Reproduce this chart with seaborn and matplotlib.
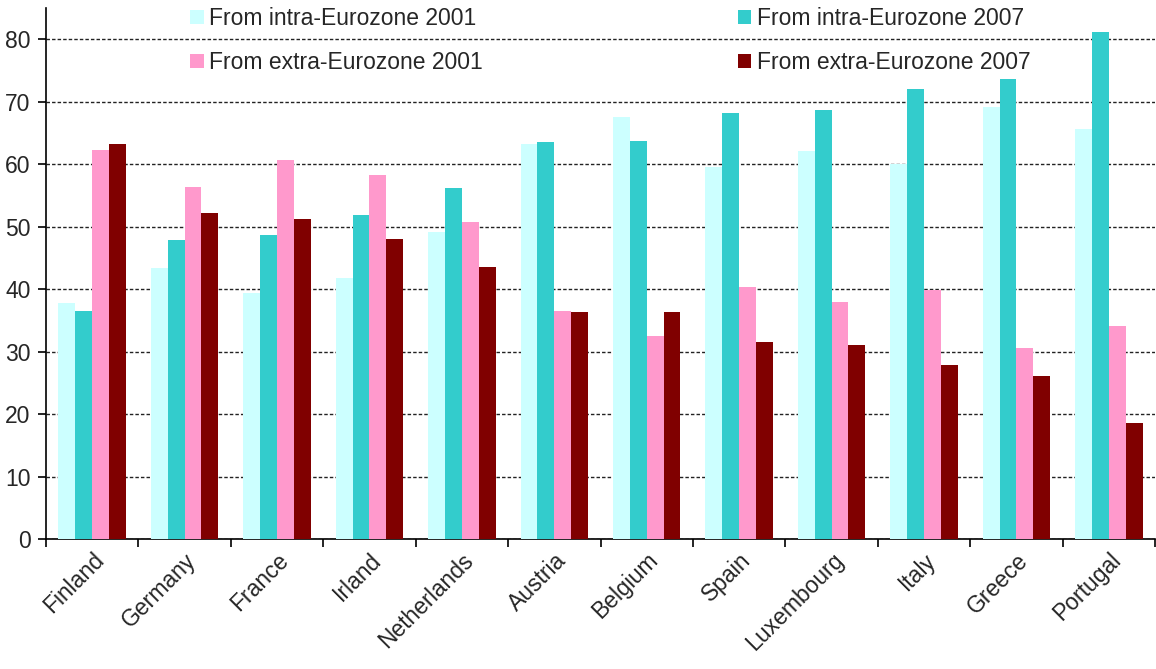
import matplotlib
matplotlib.use("Agg")
import matplotlib.pyplot as plt
import seaborn as sns
import pandas as pd
import numpy as np

countries = ["Finland", "Germany", "France", "Irland", "Netherlands", "Austria",
             "Belgium", "Spain", "Luxembourg", "Italy", "Greece", "Portugal"]
intra_2001 = [37.7, 43.4, 39.4, 41.8, 49.1, 63.2, 67.5, 59.6, 62.1, 60.0, 69.2, 65.6]
intra_2007 = [36.5, 47.9, 48.6, 51.9, 56.2, 63.5, 63.7, 68.2, 68.7, 72.0, 73.6, 81.2]
extra_2001 = [62.3, 56.4, 60.6, 58.3, 50.7, 36.5, 32.5, 40.3, 38.0, 39.8, 30.6, 34.1]
extra_2007 = [63.2, 52.2, 51.2, 48.0, 43.6, 36.3, 36.3, 31.6, 31.1, 27.8, 26.1, 18.5]

series_names = ["From intra-Eurozone 2001", "From intra-Eurozone 2007",
                "From extra-Eurozone 2001", "From extra-Eurozone 2007"]
series_values = [intra_2001, intra_2007, extra_2001, extra_2007]
colors = ["#CCFFFF", "#33CCCC", "#FF99CC", "#800000"]

rows = []
for name, vals in zip(series_names, series_values):
    for c, v in zip(countries, vals):
        rows.append({"country": c, "series": name, "value": v})
df = pd.DataFrame(rows)

sns.set_style("white")
plt.rcParams["font.family"] = ["Liberation Sans", "DejaVu Sans"]
FS = 16.5

fig = plt.figure(figsize=(11.56, 6.69), dpi=100)
ax = fig.add_axes([46 / 1156, 1 - 539 / 669, 1 - 46 / 1156 - 1 / 1156, (539 - 8) / 669])

sns.barplot(data=df, x="country", y="value", hue="series", order=countries,
            hue_order=series_names, palette=colors, saturation=1, width=0.73,
            linewidth=0, ax=ax, legend=True, zorder=3)

ax.set_ylim(0, 85)
ax.set_xlim(-0.5, len(countries) - 0.5)
ax.set_yticks(np.arange(0, 81, 10))
ax.yaxis.grid(True, linestyle=(0, (2.5, 1.5)), color="#222222", linewidth=1.0, zorder=0)
ax.set_axisbelow(True)
ax.xaxis.grid(False)
ax.set_xlabel("")
ax.set_ylabel("")

# Category boundary ticks
ax.set_xticks(np.arange(-0.5, len(countries), 1.0))
ax.set_xticklabels([])
ax.set_xticks(np.arange(len(countries)), minor=True)
ax.set_xticklabels(countries, minor=True, rotation=45, ha="right",
                   rotation_mode="anchor", fontsize=FS)
ax.tick_params(axis="x", which="major", length=6, width=1.2, direction="out", color="black", bottom=True)
ax.tick_params(axis="x", which="minor", length=0, pad=7)
ax.tick_params(axis="y", which="major", length=6, width=1.2, direction="out", color="black",
               labelsize=FS, left=True, pad=5)

for s in ["top", "right"]:
    ax.spines[s].set_visible(False)
for s in ["left", "bottom"]:
    ax.spines[s].set_color("black")
    ax.spines[s].set_linewidth(1.2)

# Legend
handles, labels = ax.get_legend_handles_labels()
ax.get_legend().remove()
order = [0, 2, 1, 3]
fig.legend([handles[i] for i in order], [labels[i] for i in order],
           loc="upper left", bbox_to_anchor=(190 / 1156, 1 - 7 / 669),
           ncol=2, frameon=False, fontsize=FS, handlelength=0.6, handleheight=0.6,
           handletextpad=0.25, columnspacing=11.1, labelspacing=0.92, borderpad=0,
           borderaxespad=0)

fig.savefig("out.png", dpi=100)
